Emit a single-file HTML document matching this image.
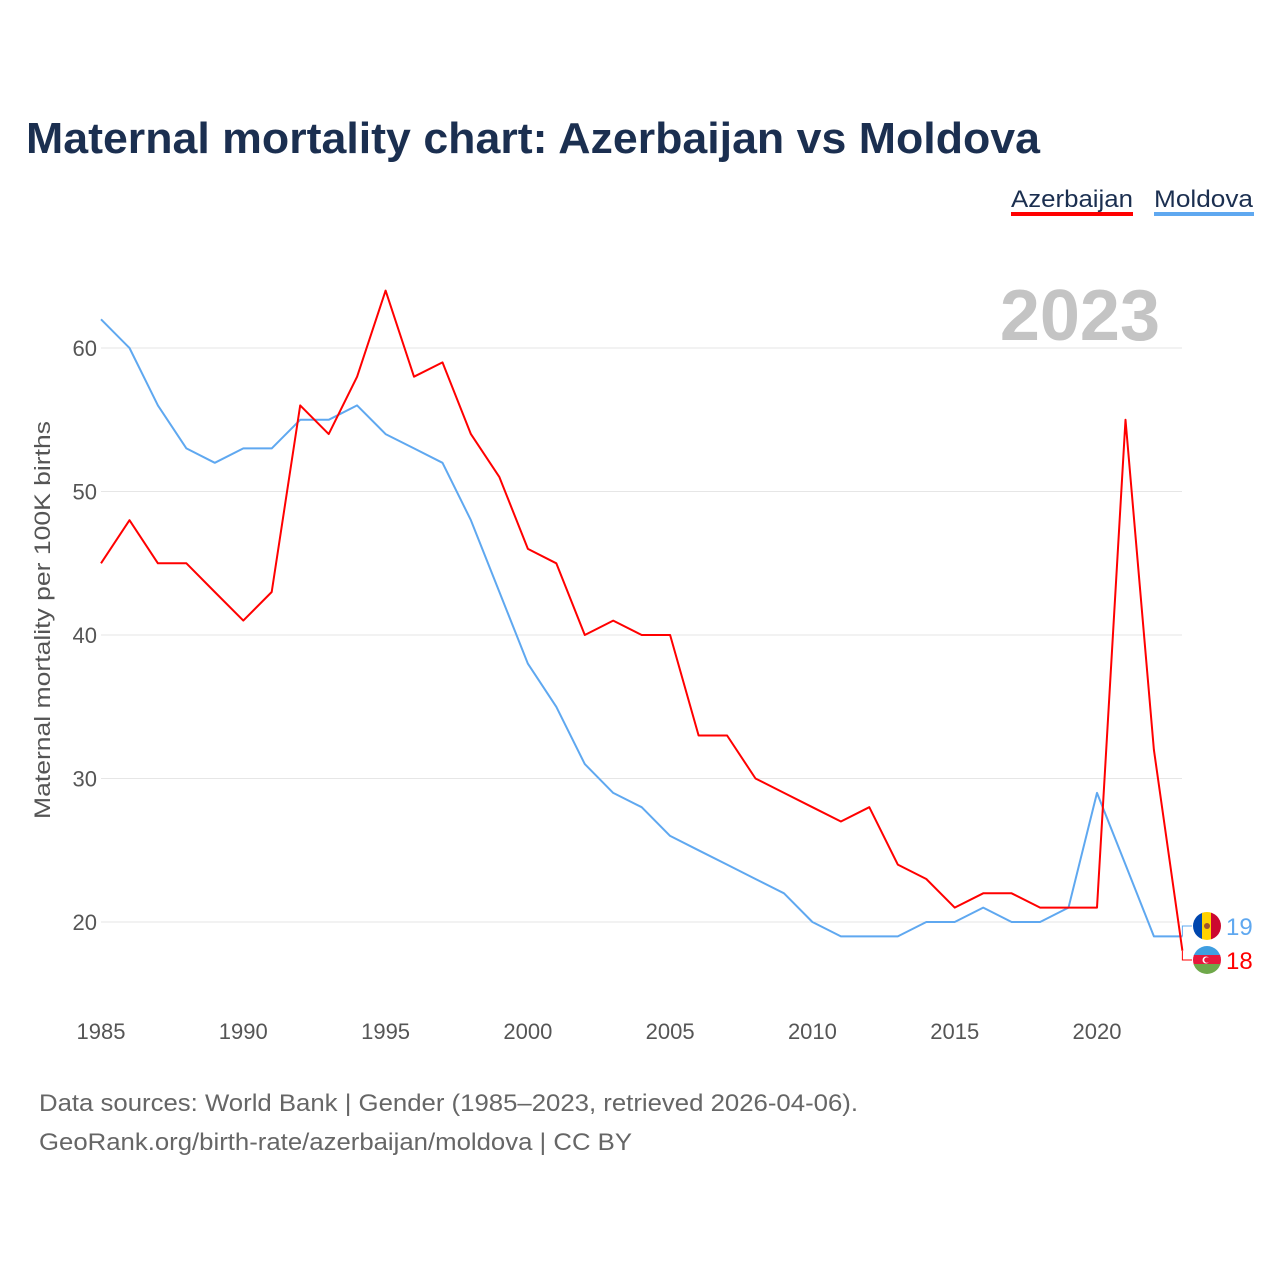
<!DOCTYPE html>
<html><head><meta charset="utf-8"><style>
body{margin:0;background:#fff;font-family:"Liberation Sans",sans-serif;}
#wrap{position:relative;width:1280px;height:1280px;overflow:hidden;}
</style></head><body>
<div id="wrap">
<svg id="chart" width="1280" height="1280"></svg>
</div>
<script>
const years=[1985,1986,1987,1988,1989,1990,1991,1992,1993,1994,1995,1996,1997,1998,1999,2000,2001,2002,2003,2004,2005,2006,2007,2008,2009,2010,2011,2012,2013,2014,2015,2016,2017,2018,2019,2020,2021,2022,2023];
const azerbaijan=[45,48,45,45,43,41,43,56,54,58,64,58,59,54,51,46,45,40,41,40,40,33,33,30,29,28,27,28,24,23,21,22,22,21,21,21,55,32,18];
const moldova=[62,60,56,53,52,53,53,55,55,56,54,53,52,48,43,38,35,31,29,28,26,25,24,23,22,20,19,19,19,20,20,21,20,20,21,29,24,19,19];
const yTicks=[20,30,40,50,60];
const xTicks=[1985,1990,1995,2000,2005,2010,2015,2020];

const NS="http://www.w3.org/2000/svg";
const svg=document.getElementById('chart');
const X=y=>101+(y-1985)*(1097-101)/35;
const Y=v=>922-(v-20)*(922-348)/40;
function el(t,a,parent){const e=document.createElementNS(NS,t);for(const k in a)e.setAttribute(k,a[k]);(parent||svg).appendChild(e);return e;}
function txt(s,a){const e=el('text',a);e.textContent=s;return e;}

let t=txt('Maternal mortality chart: Azerbaijan vs Moldova',{x:26,y:153,'font-size':44,'font-weight':'bold',fill:'#1b2f50',textLength:1014,lengthAdjust:'spacingAndGlyphs'});



t=txt('Azerbaijan',{x:1011,y:207,'font-size':24,fill:'#1b2f50',textLength:122,lengthAdjust:'spacingAndGlyphs'});


let r=el('rect',{x:1011,y:212,width:122,height:4,fill:'#ff0000'});


t=txt('Moldova',{x:1154,y:207,'font-size':24,fill:'#1b2f50',textLength:99,lengthAdjust:'spacingAndGlyphs'});


r=el('rect',{x:1154,y:212,width:100,height:4,fill:'#5fa8f0'});



t=txt('2023',{x:1160,y:340,'font-size':72,'font-weight':'bold',fill:'#c4c4c4','text-anchor':'end'});



yTicks.forEach(v=>{
 const g=el('line',{x1:101,x2:1182,y1:Y(v),y2:Y(v),stroke:'#e6e6e6','stroke-width':1});
 
 
 const l=txt(v,{x:97,y:Y(v)+8,'font-size':22,fill:'#555','text-anchor':'end'});
 
 
});
xTicks.forEach(v=>{
 const l=txt(v,{x:X(v),y:1039,'font-size':22,fill:'#555','text-anchor':'middle'});
 
 
});
t=txt('Maternal mortality per 100K births',{x:0,y:0,'font-size':22,fill:'#555','text-anchor':'middle',transform:'translate(50,620) rotate(-90)',textLength:398,lengthAdjust:'spacingAndGlyphs'});



function line(data,color,name){
 const d=data.map((v,i)=>(i?'L':'M')+X(years[i]).toFixed(1)+','+Y(v).toFixed(1)).join('');
 const p=el('path',{d:d,fill:'none',stroke:color,'stroke-width':2,'stroke-linejoin':'round'});
 
 
}
line(moldova,'#5fa8f0','line-moldova');
line(azerbaijan,'#ff0000','line-azerbaijan');

const lx=X(2023), mv=moldova[moldova.length-1], av=azerbaijan[azerbaijan.length-1];
const my=926, ay=960;
el('path',{d:`M${lx},${Y(mv)}L${lx},${my}L1192,${my}`,stroke:'#5fa8f0',fill:'none','stroke-width':1});
el('path',{d:`M${lx},${Y(av)}L${lx},${ay}L1192,${ay}`,stroke:'#ff0000',fill:'none','stroke-width':1});
let g=el('g',{});


const cmc=el('clipPath',{id:'cm'},g);el('circle',{cx:1207,cy:my,r:14},cmc);
el('rect',{x:1193,y:my-14,width:10,height:28,fill:'#0046ae','clip-path':'url(#cm)'},g);
el('rect',{x:1202,y:my-14,width:10,height:28,fill:'#ffd200','clip-path':'url(#cm)'},g);
el('rect',{x:1211,y:my-14,width:10,height:28,fill:'#cc092f','clip-path':'url(#cm)'},g);
el('circle',{cx:1207,cy:my,r:3,fill:'#a0522d'},g);
g=el('g',{});


const ca=el('clipPath',{id:'ca'},g);el('circle',{cx:1207,cy:ay,r:14},ca);
el('rect',{x:1193,y:ay-14,width:28,height:10,fill:'#3f9ee0','clip-path':'url(#ca)'},g);
el('rect',{x:1193,y:ay-5,width:28,height:10,fill:'#e8173c','clip-path':'url(#ca)'},g);
el('rect',{x:1193,y:ay+4,width:28,height:10,fill:'#6fa84a','clip-path':'url(#ca)'},g);
el('circle',{cx:1206,cy:ay,r:3.5,fill:'#fff'},g);
el('circle',{cx:1207,cy:ay,r:2.8,fill:'#e8173c'},g);
t=txt(mv,{x:1226,y:my+9,'font-size':24,fill:'#5fa8f0'});


t=txt(av,{x:1226,y:ay+9,'font-size':24,fill:'#ff0000'});



t=txt('Data sources: World Bank | Gender (1985–2023, retrieved 2026-04-06).',{x:39,y:1111,'font-size':24,fill:'#666',textLength:819,lengthAdjust:'spacingAndGlyphs'});


t=txt('GeoRank.org/birth-rate/azerbaijan/moldova | CC BY',{x:39,y:1150,'font-size':24,fill:'#666',textLength:593,lengthAdjust:'spacingAndGlyphs'});


</script>
</body></html>
